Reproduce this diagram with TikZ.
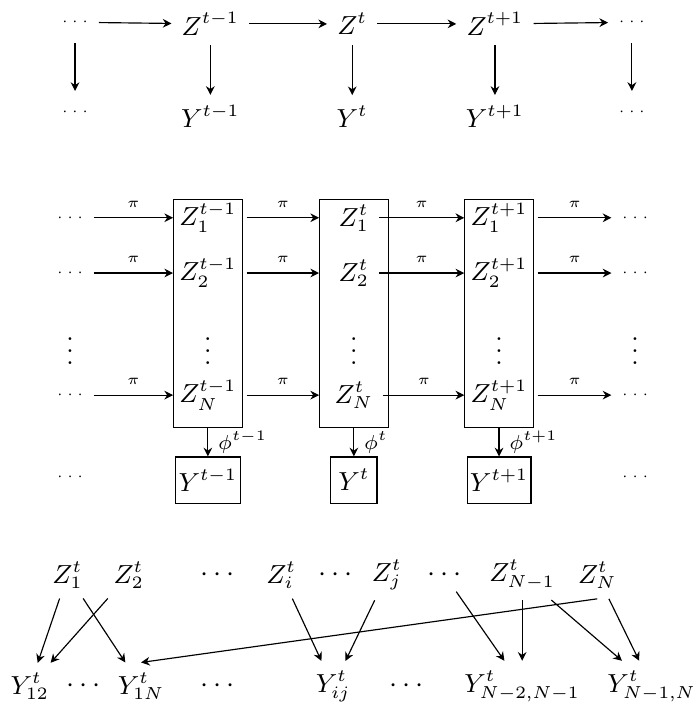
\documentclass[tikz,border=0pt]{standalone}
\usetikzlibrary{arrows.meta}
\begin{document}
\begin{tikzpicture}[>={Stealth[length=3pt,width=3pt]},
    every node/.style={font=\small},
    colbox/.style={draw, minimum width=0.83cm, minimum height=2.77cm},
    ybox/.style={draw, inner sep=1pt, minimum size=0.56cm},
    topdots/.style={minimum height=0.5cm},
    bigdots/.style={font=\normalsize}]
				\useasboundingbox (0,0) rectangle (8.4,8.51);

				\node[topdots] (tl) at (0.91,8.24) {\tiny$\cdots$};
				\node (za) at (2.55,8.22) {$Z^{t-1}$};
				\node (zb) at (4.27,8.22) {$Z^{t}$};
				\node (zc) at (6.00,8.22) {$Z^{t+1}$};
				\node[topdots] (tr) at (7.66,8.24) {\tiny$\cdots$};
				\node[topdots] (bl) at (0.91,7.15) {\tiny$\cdots$};
				\node (ya) at (2.55,7.10) {$Y^{t-1}$};
				\node (yb) at (4.27,7.10) {$Y^{t}$};
				\node (yc) at (6.00,7.10) {$Y^{t+1}$};
				\node[topdots] (br) at (7.66,7.15) {\tiny$\cdots$};
				\draw[->] (tl) -- (za);
				\draw[->] (za) -- (zb);
				\draw[->] (zb) -- (zc);
				\draw[->] (zc) -- (tr);
				\draw[->] (tl) -- (bl);
				\draw[->] (za) -- (ya);
				\draw[->] (zb) -- (yb);
				\draw[->] (zc) -- (yc);
				\draw[->] (tr) -- (br);

				\node[colbox] (ca) at (2.52,4.71) {};
				\node[colbox] (cb) at (4.29,4.71) {};
				\node[colbox] (cc) at (6.05,4.71) {};

				\node (l1) at (0.85,5.87) {\tiny$\cdots$};
				\node (l2) at (0.85,5.20) {\tiny$\cdots$};
				\node (l3) at (0.85,4.36) {$\vdots$};
				\node (l4) at (0.85,3.72) {\tiny$\cdots$};
				\node (a1) at (2.52,5.87) {$Z_1^{t-1}$};
				\node (a2) at (2.52,5.20) {$Z_2^{t-1}$};
				\node (a3) at (2.52,4.36) {$\vdots$};
				\node (a4) at (2.52,3.72) {$Z_N^{t-1}$};
				\node (b1) at (4.29,5.87) {$Z_1^{t}$};
				\node (b2) at (4.29,5.20) {$Z_2^{t}$};
				\node (b3) at (4.29,4.36) {$\vdots$};
				\node (b4) at (4.29,3.72) {$Z_N^{t}$};
				\node (c1) at (6.05,5.87) {$Z_1^{t+1}$};
				\node (c2) at (6.05,5.20) {$Z_2^{t+1}$};
				\node (c3) at (6.05,4.36) {$\vdots$};
				\node (c4) at (6.05,3.72) {$Z_N^{t+1}$};
				\node (r1) at (7.70,5.87) {\tiny$\cdots$};
				\node (r2) at (7.70,5.20) {\tiny$\cdots$};
				\node (r3) at (7.70,4.36) {$\vdots$};
				\node (r4) at (7.70,3.72) {\tiny$\cdots$};

				\draw[->] (l1) -- (a1 -| ca.west) node[midway, above] {\tiny$\pi$};
				\draw[->] (l2) -- (a2 -| ca.west) node[midway, above] {\tiny$\pi$};
				\draw[->] (l4) -- (a4 -| ca.west) node[midway, above] {\tiny$\pi$};
				\draw[->] (a1) -- (b1 -| cb.west) node[midway, above] {\tiny$\pi$};
				\draw[->] (a2) -- (b2 -| cb.west) node[midway, above] {\tiny$\pi$};
				\draw[->] (a4) -- (b4 -| cb.west) node[midway, above] {\tiny$\pi$};
				\draw[->] (b1) -- (c1 -| cc.west) node[midway, above] {\tiny$\pi$};
				\draw[->] (b2) -- (c2 -| cc.west) node[midway, above] {\tiny$\pi$};
				\draw[->] (b4) -- (c4 -| cc.west) node[midway, above] {\tiny$\pi$};
				\draw[->] (c1) -- (r1) node[midway, above] {\tiny$\pi$};
				\draw[->] (c2) -- (r2) node[midway, above] {\tiny$\pi$};
				\draw[->] (c4) -- (r4) node[midway, above] {\tiny$\pi$};

				\node (ld) at (0.85,2.73) {\tiny$\cdots$};
				\node[ybox] (pa) at (2.52,2.69) {$Y^{t-1}$};
				\node[ybox] (pb) at (4.29,2.69) {$Y^{t}$};
				\node[ybox] (pc) at (6.05,2.69) {$Y^{t+1}$};
				\node (rd) at (7.70,2.73) {\tiny$\cdots$};
				\draw[->] (ca) -- (pa) node[midway, right] {\scriptsize$\phi^{t-1}$};
				\draw[->] (cb) -- (pb) node[midway, right] {\scriptsize$\phi^{t}$};
				\draw[->] (cc) -- (pc) node[midway, right] {\scriptsize$\phi^{t+1}$};

				\node (z1) at (0.82,1.54) {$Z_1^t$};
				\node (z2) at (1.56,1.54) {$Z_2^t$};
				\node[bigdots] (zd1) at (2.64,1.54) {$\cdots$};
				\node (zi) at (3.41,1.54) {$Z_i^t$};
				\node[bigdots] (zd2) at (4.07,1.54) {$\cdots$};
				\node (zj) at (4.69,1.54) {$Z_j^t$};
				\node[bigdots] (zd3) at (5.39,1.54) {$\cdots$};
				\node (zm) at (6.33,1.54) {$Z_{N-1}^t$};
				\node (zn) at (7.24,1.54) {$Z_N^t$};
				\node (y12) at (0.36,0.19) {$Y_{12}^t$};
				\node[bigdots] (yd1) at (1.01,0.19) {$\cdots$};
				\node (y1n) at (1.71,0.19) {$Y_{1N}^t$};
				\node[bigdots] (yd2) at (2.64,0.19) {$\cdots$};
				\node (yij) at (4.04,0.19) {$Y_{ij}^t$};
				\node[bigdots] (yd3) at (4.93,0.19) {$\cdots$};
				\node (ym) at (6.33,0.19) {$Y_{N-2,N-1}^t$};
				\node (yn) at (7.90,0.19) {$Y_{N-1,N}^t$};
				\draw[->] (z1) -- (y12);
				\draw[->] (z2) -- (y12);
				\draw[->] (z1) -- (y1n);
				\draw[->] (zn.south) -- (y1n.north);
				\draw[->] (zi) -- (yij);
				\draw[->] (zj) -- (yij);
				\draw[->] (zd3) -- (ym);
				\draw[->] (zm) -- (ym);
				\draw[->] (zm) -- (yn);
				\draw[->] (zn) -- (yn);
			\end{tikzpicture}
\end{document}
